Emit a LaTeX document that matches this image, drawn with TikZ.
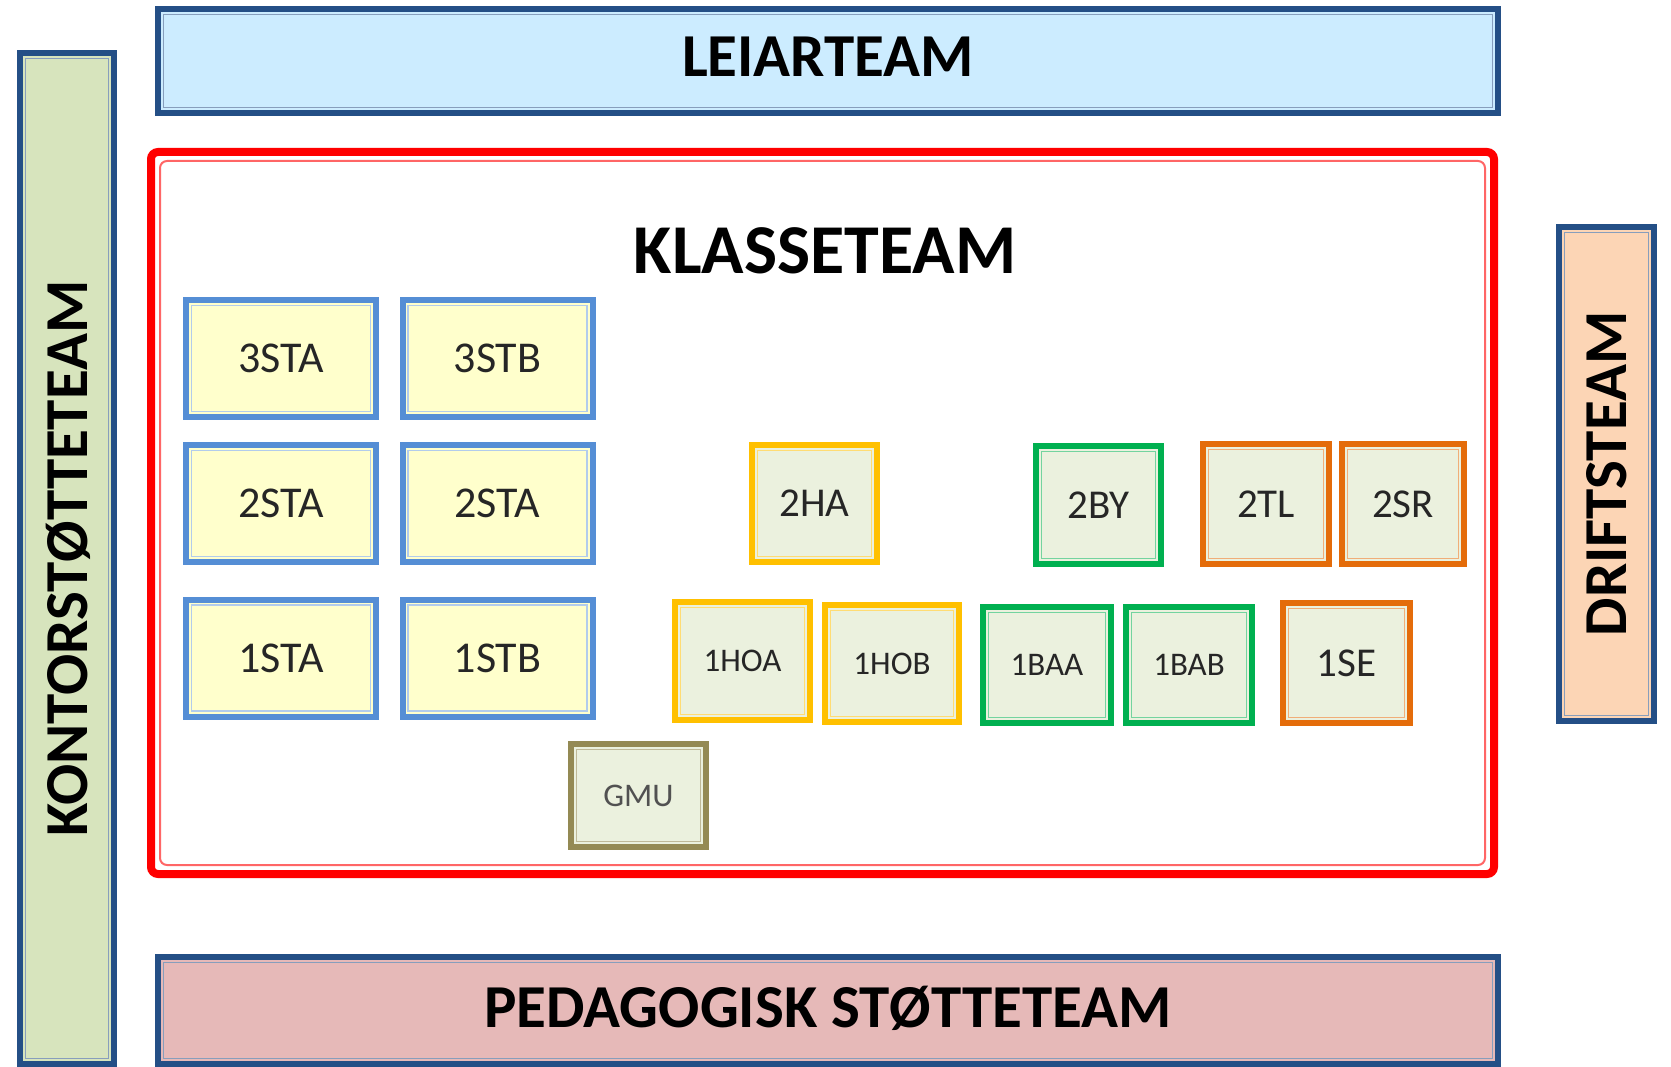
\documentclass[tikz,border=0pt]{standalone}
\usepackage{fontspec}
\setmainfont{Carlito}
\definecolor{navy}{HTML}{244F86}
\definecolor{stblue}{HTML}{558ED5}
\definecolor{gold}{HTML}{FFC000}
\definecolor{grn}{HTML}{00B050}
\definecolor{orng}{HTML}{E46C0A}
\definecolor{olive}{HTML}{948A54}
\definecolor{fillyel}{HTML}{FFFFCC}
\definecolor{fillgrn}{HTML}{EBF1DE}
\definecolor{fillleiar}{HTML}{CCECFF}
\definecolor{fillkontor}{HTML}{D7E4BD}
\definecolor{filldrift}{HTML}{FCD5B5}
\definecolor{fillped}{HTML}{E6B9B8}
\definecolor{txtgray}{HTML}{262626}
\tikzset{
  ttbox/.style n args={3}{draw=#1, fill=#2, line width=6pt, inner sep=0pt, text depth=0pt,
    path picture={\draw[draw=#3, line width=1.5pt]
      ([shift={(5.5pt,-5.5pt)}]path picture bounding box.north west) rectangle
      ([shift={(-5.5pt,5.5pt)}]path picture bounding box.south east);}},
  bigbox/.style={ttbox={navy}{#1}{navy!55}, text depth=8pt, font=\fontsize{61}{72}\selectfont\bfseries},
  stbox/.style={ttbox={stblue}{fillyel}{stblue!45}, minimum width=190pt, minimum height=117pt,
    text=txtgray, font=\fontsize{44}{52}\selectfont},
  goldbox/.style={ttbox={gold}{fillgrn}{gold!55}, text=txtgray},
  grnbox/.style={ttbox={grn}{fillgrn}{grn!55}, text=txtgray},
  orbox/.style={ttbox={orng}{fillgrn}{orng!55}, text=txtgray},
  olbox/.style={ttbox={olive}{fillgrn}{olive!60}, text=txtgray!80},
  midfont/.style={font=\fontsize{41}{48}\selectfont},
  smallfont/.style={font=\fontsize{33}{38}\selectfont},
  vtitle/.style={rotate=90, inner sep=0pt, text depth=0pt, font=\fontsize{61}{72}\selectfont\bfseries},
}
\begin{document}
\begin{tikzpicture}[x=1pt, y=-1pt]
\useasboundingbox (0,0) rectangle (1671,1067);
% outer teams
\node[bigbox=fillleiar, minimum width=1340pt, minimum height=104pt] (leiar) at (828,61) {LEIARTEAM};
\node[bigbox=fillped, minimum width=1340pt, minimum height=107pt] (ped) at (828,1010.5) {PEDAGOGISK STØTTETEAM};
\node[bigbox=fillkontor, minimum width=94pt, minimum height=1011pt] (kontor) at (67,558.5) {};
\node[vtitle] (kontortitle) at (kontor.center) {KONTORSTØTTETEAM};
\node[bigbox=filldrift, minimum width=95pt, minimum height=494pt] (drift) at (1606.5,474) {};
\node[vtitle] (drifttitle) at (drift.center) {DRIFTSTEAM};
% class team frame
\node[draw=red, fill=white, line width=8pt, rounded corners=7pt, minimum width=1343pt, minimum height=722pt,
  path picture={\draw[draw=red!60, line width=2pt]
      ([shift={(9pt,-9pt)}]path picture bounding box.north west) rectangle
      ([shift={(-9pt,9pt)}]path picture bounding box.south east);}] (klasse) at (822.5,513) {};
\node[anchor=base, inner sep=0pt, font=\fontsize{70}{80}\selectfont\bfseries] (klassetitle) at (825,274) {KLASSETEAM};
% ST boxes
\node[stbox] (s3a) at (281,358.5) {3STA};
\node[stbox] (s3b) at (497.5,358.5) {3STB};
\node[stbox] (s2a) at (281,503.5) {2STA};
\node[stbox] (s2b) at (497.5,503.5) {2STA};
\node[stbox] (s1a) at (281,658) {1STA};
\node[stbox] (s1b) at (497.5,658) {1STB};
% second year
\node[goldbox, midfont, minimum width=125pt, minimum height=117pt] (ha2) at (814.5,503.5) {2HA};
\node[grnbox, midfont, minimum width=125pt, minimum height=118pt] (by2) at (1098.5,505) {2BY};
\node[orbox, midfont, minimum width=126pt, minimum height=120pt] (tl2) at (1266,504) {2TL};
\node[orbox, midfont, minimum width=122pt, minimum height=120pt] (sr2) at (1403,504) {2SR};
% first year
\node[goldbox, smallfont, minimum width=135pt, minimum height=118pt] (hoa1) at (742.5,661) {1HOA};
\node[goldbox, smallfont, minimum width=134pt, minimum height=117pt] (hob1) at (892,663.5) {1HOB};
\node[grnbox, smallfont, minimum width=128pt, minimum height=116pt] (baa1) at (1047,665) {1BAA};
\node[grnbox, smallfont, minimum width=126pt, minimum height=116pt] (bab1) at (1189,665) {1BAB};
\node[orbox, midfont, minimum width=127pt, minimum height=120pt] (se1) at (1346.5,663) {1SE};
\node[olbox, smallfont, minimum width=135pt, minimum height=103pt] (gmu) at (638.5,795.5) {GMU};
\end{tikzpicture}
\end{document}
